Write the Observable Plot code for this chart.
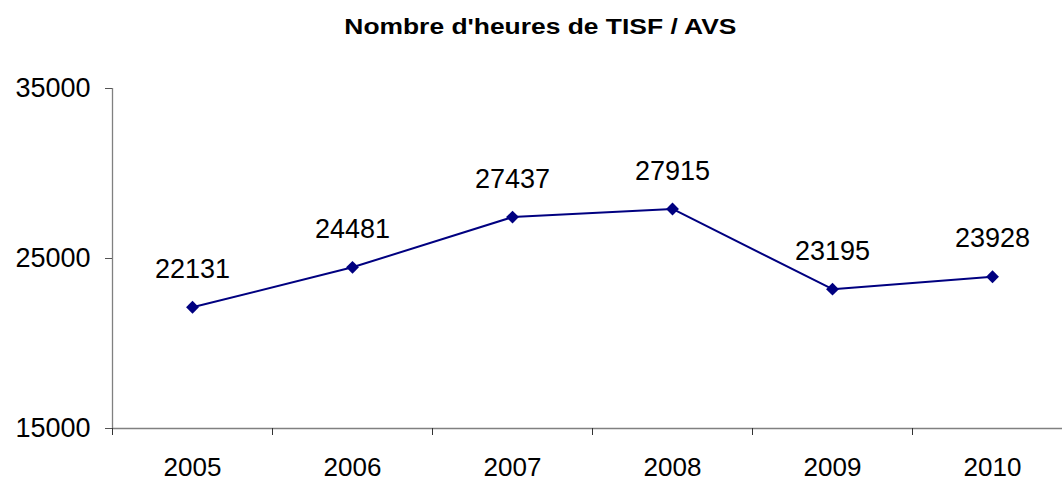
<!DOCTYPE html>
<html><head><meta charset="utf-8">
<script src="https://cdn.jsdelivr.net/npm/d3@7"></script>
<script src="https://cdn.jsdelivr.net/npm/@observablehq/plot@0.6"></script>
<style>
html,body{margin:0;padding:0;background:#fff;overflow:hidden;}
#wrap{position:relative;width:1062px;height:480px;}
#title{position:absolute;left:0;top:14px;width:1080px;text-align:center;font-family:"Liberation Sans",Arial,sans-serif;font-weight:bold;font-size:22px;color:#000;}
#title span{display:inline-block;transform:scaleX(1.2);}
</style></head>
<body><div id="wrap"><div id="title"><span id="tt"></span></div><div id="chart"></div></div>
<script>
const years = [2005, 2006, 2007, 2008, 2009, 2010];
const hours = [22131, 24481, 27437, 27915, 23195, 23928];
const yTicks = [15000, 25000, 35000];
const titleText = "Nombre d'heures de TISF / AVS";

document.getElementById("tt").textContent = titleText;
const data = years.map((y, i) => ({year: y, value: hours[i]}));
const xDomain = [years[0] - 0.5, years[years.length - 1] + 0.5];
const bounds = d3.range(xDomain[0], xDomain[1] + 0.01, 1);
const font = "Liberation Sans, Arial, sans-serif";

const chart = Plot.plot({
  width: 1062, height: 480,
  marginTop: 88, marginBottom: 52, marginLeft: 112, marginRight: 0,
  style: {fontFamily: font, background: "transparent", overflow: "visible"},
  x: {type: "linear", domain: xDomain, range: [112, 1072]},
  y: {domain: [15000, 35000]},
  marks: [
    Plot.ruleY([yTicks[0]], {stroke: "#808080", strokeWidth: 1.3}),
    Plot.ruleX([xDomain[0]], {stroke: "#808080", strokeWidth: 1.3}),
    Plot.axisY({ticks: yTicks, tickSize: 7, tickPadding: 15, fontSize: 27, stroke: "#555", fill: "#000", tickFormat: d => String(d), label: null}),
    Plot.axisX({ticks: bounds, tickSize: 7, tickFormat: () => "", stroke: "#333", label: null}),
    Plot.axisX({ticks: years, tickSize: 0, tickPadding: 29, fontSize: 26, fill: "#000", tickFormat: d => String(d), label: null}),
    Plot.line(data, {x: "year", y: "value", stroke: "#000080", strokeWidth: 2}),
    Plot.dot(data, {x: "year", y: "value", symbol: "diamond2", r: 5.8, fill: "#000080", stroke: "none"}),
    Plot.text(data, {x: "year", y: "value", text: d => String(d.value), dy: -38, fontSize: 27, fill: "#000"})
  ]
});
document.getElementById("chart").appendChild(chart);
</script></body></html>
